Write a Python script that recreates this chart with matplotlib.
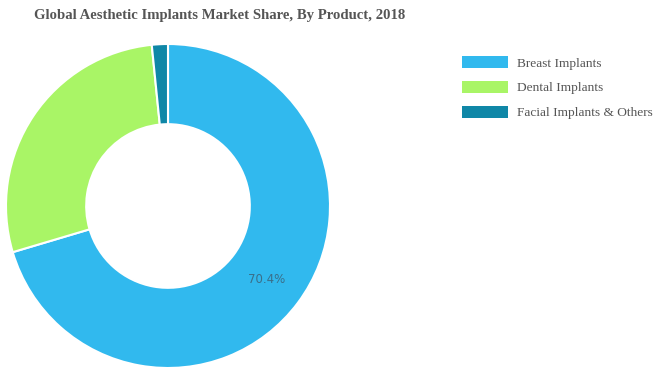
import matplotlib.pyplot as plt
from matplotlib.patches import Patch

products = ["Breast Implants", "Dental Implants", "Facial Implants & Others"]
shares = [70.4, 28.0, 1.6]
colors = ["#31b9ee", "#a9f566", "#0f87a7"]

fig = plt.figure(figsize=(6.54, 3.70), dpi=100)
W, H = 654, 370
# donut axes: center ~ (168, 206) px, radius ~162 px
ax = fig.add_axes([6 / W, (370 - 368) / H, 324 / W, 324 / H])

wedges, texts, autotexts = ax.pie(
    shares,
    colors=colors,
    startangle=90,
    counterclock=False,
    radius=1.0,
    autopct=lambda p: f"{p:.1f}%" if p > 50 else "",
    pctdistance=0.76,
    wedgeprops=dict(width=0.495, edgecolor="white", linewidth=1.5),
    textprops=dict(fontsize=8.5, color="#3a6f8a", family="DejaVu Sans"),
)
ax.set_xlim(-1, 1)
ax.set_ylim(-1, 1)
ax.set_aspect("equal")
ax.axis("off")

fig.text(220 / W, 1 - 15 / H, "Global Aesthetic Implants Market Share, By Product, 2018",
         ha="center", va="center", fontsize=10.6, fontweight="bold",
         family="Liberation Serif", color="#555555")

handles = [Patch(facecolor=c, edgecolor="none") for c in colors]
fig.legend(handles, products, loc="upper left", bbox_to_anchor=(450 / W, 1 - 44 / H),
           frameon=False, handlelength=3.48, handleheight=1.0, labelspacing=0.85,
           handletextpad=0.62, prop=dict(family="Liberation Serif", size=9.6),
           labelcolor="#555555")

fig.savefig("out.png", dpi=100)
